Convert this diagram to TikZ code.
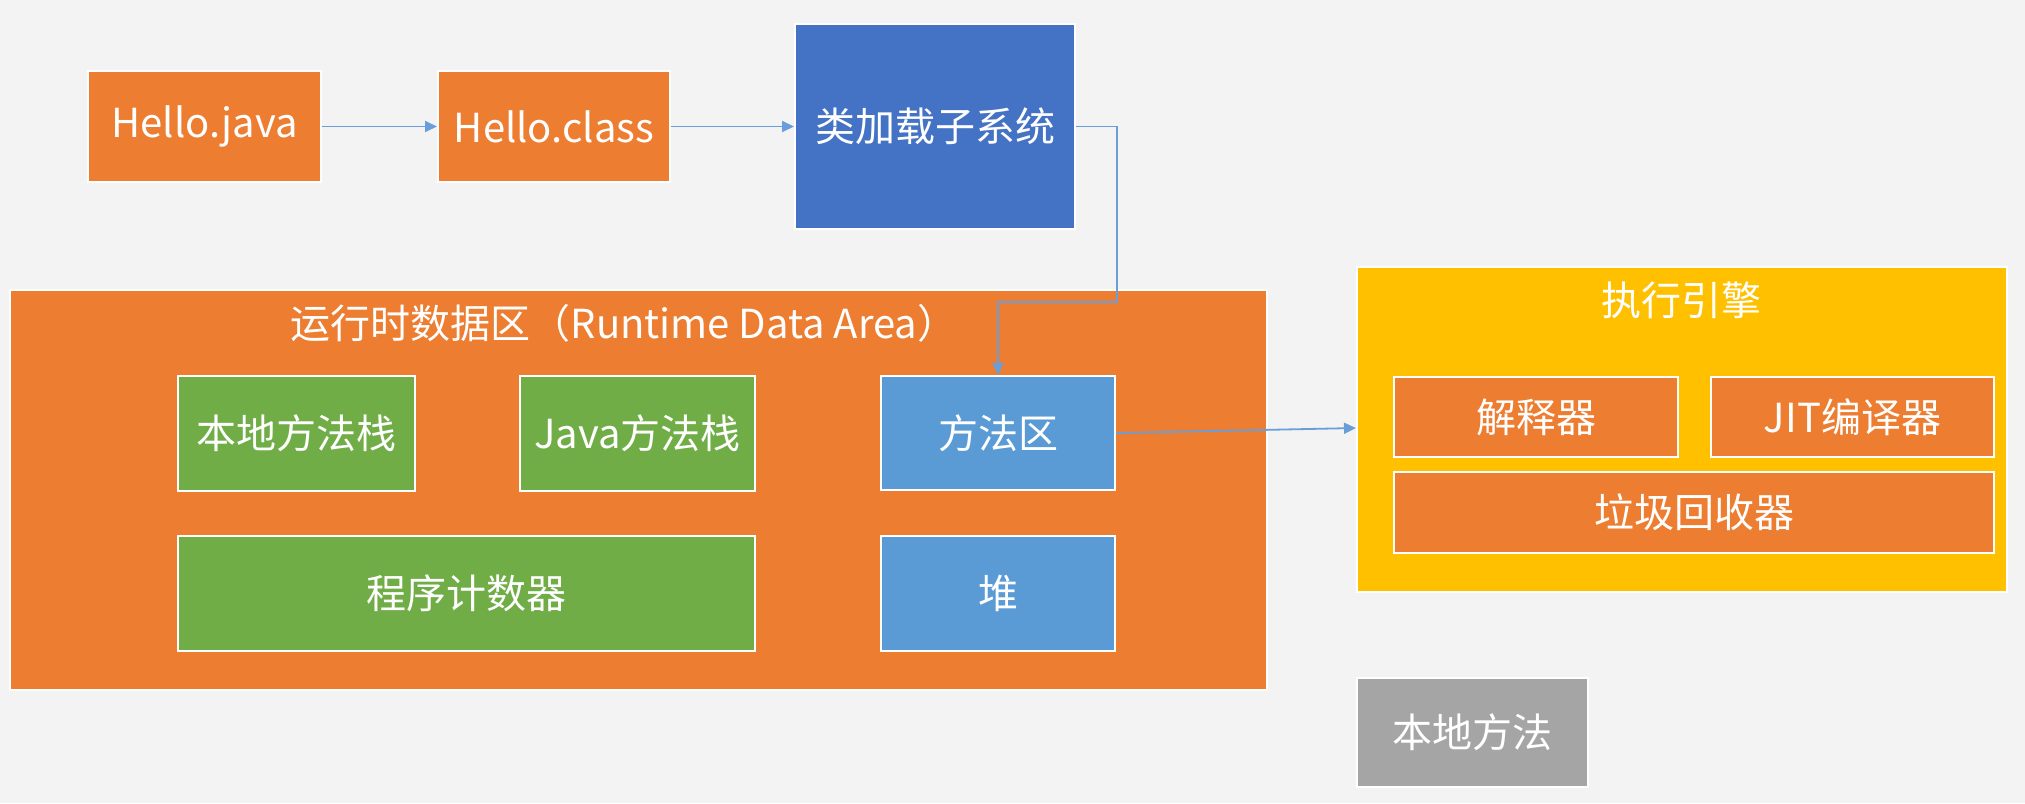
\documentclass[tikz,border=0pt]{standalone}
\usepackage{fontspec}
\setmainfont{Noto Sans CJK SC}
\usetikzlibrary{arrows.meta}
\definecolor{bg}{HTML}{F3F3F3}
\definecolor{orng}{HTML}{ED7D31}
\definecolor{dblue}{HTML}{4472C4}
\definecolor{lblue}{HTML}{5B9BD5}
\definecolor{grn}{HTML}{70AD47}
\definecolor{gold}{HTML}{FFC000}
\definecolor{gry}{HTML}{A5A5A5}
\definecolor{arrc}{HTML}{6A9ED8}
\tikzset{
  box/.style={draw=white, line width=2pt, inner sep=0pt, text=white,
    font=\fontsize{40}{48}\selectfont, align=center},
  ttl/.style={inner sep=0pt, text=white, font=\fontsize{40}{48}\selectfont},
  arr/.style={draw=arrc, line width=1.8pt, -{Triangle[length=12pt,width=11pt]}}
}
\begin{document}
\begin{tikzpicture}[x=1pt,y=-1pt]
\fill[bg] (0,0) rectangle (2025,803);
\useasboundingbox (0,0) rectangle (2025,803);
% top row
\node[box, fill=orng, minimum width=233pt, minimum height=111pt] (hj) at (204.5,126.5) {Hello.java};
\node[box, fill=orng, minimum width=232pt, minimum height=111pt] (hc) at (554,126.5) {Hello.class};
\node[box, fill=dblue, minimum width=280pt, minimum height=205pt] (cls) at (935,126.5) {类加载子系统};
% runtime data area
\node[box, fill=orng, minimum width=1257pt, minimum height=400pt] (rda) at (638.5,490) {};
\node[ttl] (rdat) at (624,323) {运行时数据区（Runtime Data Area）};
\node[box, fill=grn, minimum width=237pt, minimum height=115pt] (nms) at (296.5,433.5) {本地方法栈};
\node[box, fill=grn, minimum width=235pt, minimum height=115pt] (jvs) at (637.5,433.5) {Java方法栈};
\node[box, fill=lblue, minimum width=234pt, minimum height=114pt] (mth) at (998,433) {方法区};
\node[box, fill=grn, minimum width=577pt, minimum height=115pt] (pc) at (466.5,593.5) {程序计数器};
\node[box, fill=lblue, minimum width=234pt, minimum height=115pt] (heap) at (998,593.5) {堆};
% execution engine
\node[box, fill=gold, minimum width=650pt, minimum height=325pt] (exe) at (1682,429.5) {};
\node[ttl] (exet) at (1681,300) {执行引擎};
\node[box, fill=orng, minimum width=284pt, minimum height=80pt] (interp) at (1536,417) {解释器};
\node[box, fill=orng, minimum width=283pt, minimum height=80pt] (jit) at (1852.5,417) {JIT编译器};
\node[box, fill=orng, minimum width=600pt, minimum height=81pt] (gc) at (1694,512.5) {垃圾回收器};
% native
\node[box, fill=gry, minimum width=231pt, minimum height=109pt] (nat) at (1472.5,732.5) {本地方法};
% connectors
\draw[arr] (hj) -- (hc);
\draw[arr] (hc) -- (cls);
\coordinate (k1) at (1117,302);
\draw[arr] (cls.east) -| (k1) -| (mth.north);
\coordinate (e1) at (1356,428);
\draw[arr] (mth.east) -- (e1);
\end{tikzpicture}
\end{document}
